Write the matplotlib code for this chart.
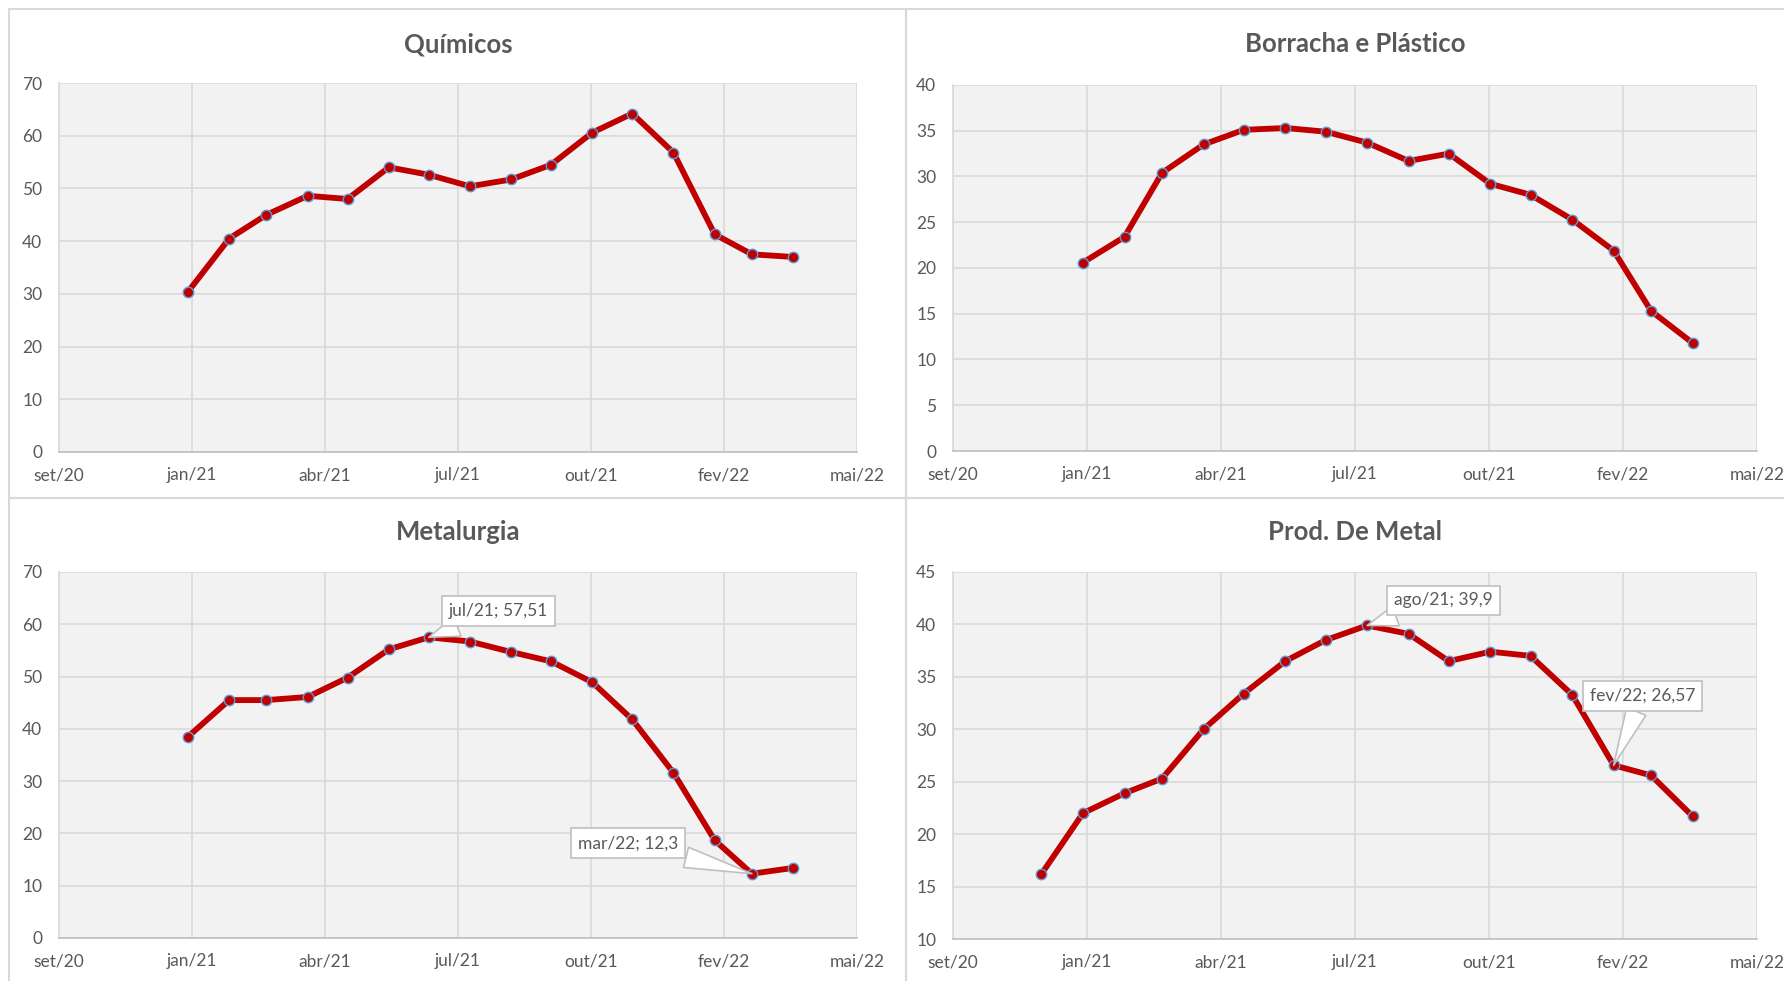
import matplotlib
matplotlib.use("Agg")
import matplotlib.pyplot as plt
import matplotlib.dates as mdates
from matplotlib.patches import Rectangle
import pandas as pd

# Dados
meses_jan21 = ['2021-01', '2021-02', '2021-03', '2021-04', '2021-05', '2021-06', '2021-07', '2021-08',
               '2021-09', '2021-10', '2021-11', '2021-12', '2022-01', '2022-02', '2022-03', '2022-04']
meses_dez20 = ['2020-12'] + meses_jan21

quimicos = [30.4, 40.5, 45.0, 48.6, 48.0, 54.0, 52.6, 50.4, 51.7, 54.5, 60.6, 64.2, 56.8, 41.3, 37.5, 37.0]
borracha = [20.6, 23.4, 30.4, 33.5, 35.1, 35.3, 34.9, 33.7, 31.7, 32.5, 29.2, 28.0, 25.3, 21.9, 15.3, 11.8]
metalurgia = [38.5, 45.5, 45.5, 46.1, 49.8, 55.2, 57.51, 56.7, 54.7, 52.9, 48.9, 41.8, 31.6, 18.7, 12.3, 13.4]
prod_metal = [16.2, 22.0, 23.9, 25.3, 30.0, 33.4, 36.5, 38.5, 39.9, 39.1, 36.5, 37.4, 37.0, 33.3, 26.57, 25.6, 21.7]

rotulos_x = ['set/20', 'jan/21', 'abr/21', 'jul/21', 'out/21', 'fev/22', 'mai/22']
inicio_eixo = '2020-09-26'
passo_dias = 100

# Rótulos de dados (mes, nome, valor, deslocamento em pontos)
rotulos_metalurgia = [('2021-07', 'jul/21', 57.51, (50, 19)), ('2022-03', 'mar/22', 12.3, (-89, 22))]
rotulos_prod_metal = [('2021-08', 'ago/21', 39.9, (55, 18)), ('2022-02', 'fev/22', 26.57, (21, 50))]

CINZA_TXT = '#595959'
plt.rcParams['font.family'] = ['Lato', 'DejaVu Sans']

fig = plt.figure(figsize=(17.84, 9.81), dpi=100)
W, H = 1784, 981


def painel(x0, y0, x1, y1):
    # moldura do gráfico estilo Excel (coordenadas em pixels)
    fig.add_artist(Rectangle((x0 / W, 1 - y1 / H), (x1 - x0) / W, (y1 - y0) / H,
                             transform=fig.transFigure, fill=False, ec='#D9D9D9', lw=1.5))


def grafico(rect_px, meses, valores, titulo, titulo_px, yticks, rotulos=None):
    l, t, r, b = rect_px
    ax = fig.add_axes([l / W, 1 - b / H, (r - l) / W, (b - t) / H])
    datas = pd.to_datetime([m + '-01' for m in meses])
    ax.set_facecolor('#F2F2F2')
    ax.plot(datas, valores, color='#C00000', lw=4.2, marker='o', ms=7.5,
            mfc='#C00000', mec='#5B9BD5', mew=1.0, zorder=3, solid_capstyle='round')

    x0 = pd.Timestamp(inicio_eixo)
    ticks = [x0 + pd.Timedelta(days=passo_dias * i) for i in range(len(rotulos_x))]
    ax.set_xlim(mdates.date2num(ticks[0]), mdates.date2num(ticks[-1]))
    ax.set_xticks(mdates.date2num(ticks))
    ax.set_xticklabels(rotulos_x)
    ax.set_yticks(yticks)
    ax.set_ylim(yticks[0], yticks[-1])

    ax.grid(True, color='#D9D9D9', lw=1.2)
    ax.set_axisbelow(True)
    for s in ['top', 'right']:
        ax.spines[s].set_visible(False)
    ax.spines['left'].set_color('#D9D9D9')
    ax.spines['bottom'].set_color('#BFBFBF')
    ax.spines['left'].set_linewidth(1.2)
    ax.spines['bottom'].set_linewidth(1.2)
    ax.tick_params(length=0, labelsize=12.5, labelcolor=CINZA_TXT)
    ax.tick_params(axis='y', pad=12)
    ax.tick_params(axis='x', pad=11)

    fig.text(titulo_px[0] / W, 1 - titulo_px[1] / H, titulo, ha='center', va='center',
             fontsize=18.5, fontweight='bold', color=CINZA_TXT)

    if rotulos:
        for mes, nome, val, off in rotulos:
            d = pd.Timestamp(mes + '-01')
            txt = '{}; {}'.format(nome, str(val).replace('.', ','))
            ax.annotate(txt, xy=(mdates.date2num(d), val), xytext=off, textcoords='offset points',
                        ha='center', va='center', fontsize=12.5, color=CINZA_TXT, zorder=5,
                        bbox=dict(boxstyle='square,pad=0.4', fc='white', ec='#BFBFBF', lw=1.2),
                        arrowprops=dict(arrowstyle='wedge,tail_width=1.2,shrink_factor=0.5',
                                        fc='white', ec='#BFBFBF', lw=1.2, shrinkA=0, shrinkB=0))
    return ax


painel(9, 9, 906, 498)
painel(906, 9, 1800, 498)
painel(9, 498, 906, 1000)
painel(906, 498, 1800, 1000)

grafico((59, 83, 857, 452), meses_jan21, quimicos, 'Químicos', (458, 44), list(range(0, 71, 10)))
grafico((953, 85, 1757, 451), meses_jan21, borracha, 'Borracha e Plástico', (1355, 44), list(range(0, 41, 5)))
grafico((59, 572, 857, 938), meses_jan21, metalurgia, 'Metalurgia', (458, 532), list(range(0, 71, 10)),
        rotulos_metalurgia)
grafico((953, 572, 1757, 939), meses_dez20, prod_metal, 'Prod. De Metal', (1355, 532), list(range(10, 46, 5)),
        rotulos_prod_metal)

fig.savefig('out.png', dpi=100, facecolor='white')
